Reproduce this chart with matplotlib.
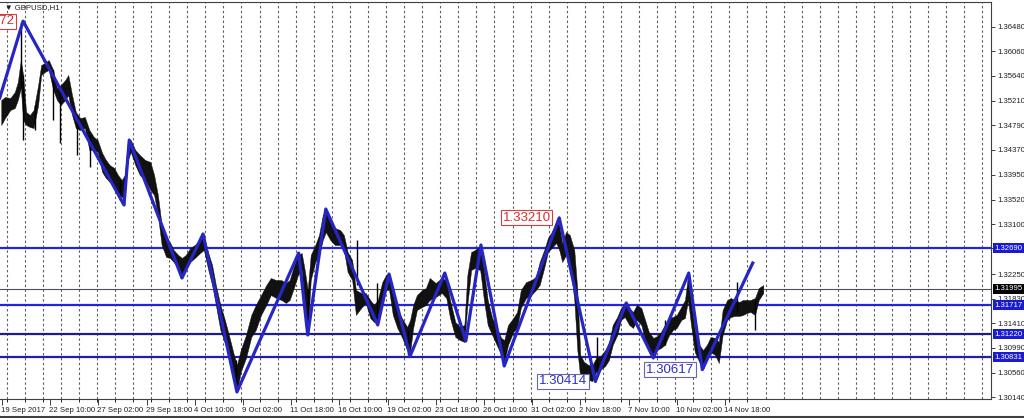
import numpy as np
import matplotlib.pyplot as plt
from matplotlib import transforms

plt.rcParams['font.family'] = ['Liberation Sans', 'DejaVu Sans']

# GBPUSD H1, x = bar number counted from 19 Sep 2017 18:00 (weekends skipped like MT4)
# price envelope (high / low) in small groups of bars
bar_pos = [-1, 4, 11, 17, 21, 25, 28, 32, 37, 42, 48, 52, 57, 62, 68, 73, 78, 84, 88, 93,
           98, 104, 110, 116, 122, 127, 133, 138, 143, 149, 154, 159, 163, 167, 171, 177, 183, 190, 197, 202,
           207, 212, 218, 223, 228, 234, 239, 244, 250, 256, 263, 268, 274, 279, 284, 290, 296, 303, 308, 312,
           317, 324, 331, 337, 344, 351, 357, 364, 371, 377, 382, 388, 393, 398, 402, 406, 410, 416, 421, 426,
           430, 436, 442, 449, 454, 459, 465, 470, 477, 483, 489, 494, 499, 505, 510, 514, 519, 525, 531, 538,
           542, 546, 551, 558, 563, 568, 576, 584, 590, 595, 602, 608, 614, 618, 623, 628, 635, 640, 645, 651,
           657, 663, 667, 672, 679, 684, 689, 696, 703, 709, 714, 720, 725, 730, 736, 740, 744, 749, 754, 760,
           764, 768, 773, 779, 784, 789, 794, 801, 806, 811, 817, 822, 827, 833, 838, 843, 849, 854, 859, 865,
           870, 875, 880, 886, 891, 896, 902, 907, 911, 915, 920, 926, 931, 936, 941, 947, 952, 957, 963, 968,
           973, 979, 984, 989, 994, 1000, 1005, 1011]
bar_high = [1.35224, 1.35275, 1.35258, 1.35361, 1.35532, 1.35908, 1.35651, 1.35019, 1.34968, 1.35053,
            1.35480, 1.35822, 1.35856, 1.35908, 1.35737, 1.35429, 1.35480, 1.35566, 1.35651, 1.35309,
            1.35019, 1.34916, 1.34933, 1.34711, 1.34592, 1.34540, 1.34318, 1.34199, 1.34113, 1.34062,
            1.33942, 1.33857, 1.33942, 1.34506, 1.34540, 1.34370, 1.34284, 1.34199, 1.34165, 1.33942,
            1.33600, 1.33088, 1.32831, 1.32797, 1.32660, 1.32575, 1.32524, 1.32575, 1.32695, 1.32746,
            1.32831, 1.32900, 1.32609, 1.32404, 1.32062, 1.31721, 1.31464, 1.31122, 1.30866, 1.30695,
            1.30951, 1.31208, 1.31550, 1.31721, 1.31891, 1.32062, 1.32182, 1.32147, 1.32147, 1.32096,
            1.32147, 1.32404, 1.32575, 1.32609, 1.32318, 1.31977, 1.32575, 1.32746, 1.32917, 1.33259,
            1.33344, 1.33173, 1.33036, 1.33002, 1.32917, 1.32626, 1.32489, 1.31977, 1.31926, 1.31926,
            1.31806, 1.31721, 1.31806, 1.32113, 1.32233, 1.32267, 1.31977, 1.31635, 1.31499, 1.31345,
            1.31464, 1.31721, 1.31891, 1.31977, 1.32011, 1.32182, 1.32096, 1.32182, 1.32147, 1.31806,
            1.31430, 1.31345, 1.31379, 1.32233, 1.32626, 1.32660, 1.32729, 1.32318, 1.31806, 1.31499,
            1.31328, 1.31157, 1.31122, 1.31379, 1.31499, 1.31601, 1.31977, 1.32113, 1.32147, 1.32199,
            1.32455, 1.32660, 1.32866, 1.32968, 1.33139, 1.33088, 1.32780, 1.32968, 1.32917, 1.32660,
            1.31977, 1.30866, 1.30746, 1.30695, 1.30695, 1.30815, 1.30832, 1.30951, 1.31071, 1.31379,
            1.31516, 1.31670, 1.31755, 1.31670, 1.31601, 1.31721, 1.31670, 1.31464, 1.31259, 1.31157,
            1.31191, 1.31259, 1.31379, 1.31499, 1.31516, 1.31550, 1.31687, 1.31806, 1.32233, 1.31806,
            1.31293, 1.31037, 1.30951, 1.31037, 1.31174, 1.31157, 1.31088, 1.31635, 1.31806, 1.31840,
            1.31806, 1.31772, 1.31806, 1.31806, 1.31806, 1.31840, 1.32011, 1.32062]
bar_low = [1.34797, 1.34916, 1.35053, 1.35087, 1.35224, 1.35429, 1.34882, 1.34797, 1.34763, 1.34745,
           1.35139, 1.35651, 1.35703, 1.35737, 1.35395, 1.35224, 1.35139, 1.35224, 1.35309, 1.34968,
           1.34745, 1.34711, 1.34745, 1.34370, 1.34370, 1.34335, 1.33994, 1.33891, 1.33823, 1.33771,
           1.33652, 1.33566, 1.33515, 1.34199, 1.34335, 1.34113, 1.33942, 1.33857, 1.33686, 1.33600,
           1.33259, 1.32746, 1.32541, 1.32524, 1.32455, 1.32353, 1.32233, 1.32353, 1.32455, 1.32524,
           1.32609, 1.32660, 1.32318, 1.32062, 1.31721, 1.31293, 1.31071, 1.30780, 1.30438, 1.30234,
           1.30575, 1.30815, 1.31174, 1.31293, 1.31550, 1.31721, 1.31891, 1.31840, 1.31806, 1.31755,
           1.31806, 1.32028, 1.32233, 1.32318, 1.31635, 1.31208, 1.32147, 1.32455, 1.32575, 1.32831,
           1.32968, 1.32831, 1.32746, 1.32746, 1.32660, 1.32284, 1.32147, 1.31550, 1.31670, 1.31755,
           1.31499, 1.31430, 1.31413, 1.31755, 1.31977, 1.31977, 1.31550, 1.31328, 1.31174, 1.30951,
           1.30917, 1.31328, 1.31635, 1.31687, 1.31721, 1.31806, 1.31857, 1.31926, 1.31840, 1.31499,
           1.31174, 1.31122, 1.31088, 1.31721, 1.32318, 1.32353, 1.32318, 1.31806, 1.31379, 1.31208,
           1.31037, 1.30866, 1.30746, 1.31037, 1.31259, 1.31328, 1.31670, 1.31840, 1.31891, 1.31977,
           1.32062, 1.32353, 1.32626, 1.32695, 1.32780, 1.32660, 1.32455, 1.32575, 1.32455, 1.31806,
           1.30951, 1.30473, 1.30438, 1.30438, 1.30421, 1.30575, 1.30609, 1.30678, 1.30780, 1.31037,
           1.31208, 1.31464, 1.31516, 1.31379, 1.31328, 1.31464, 1.31379, 1.31122, 1.30951, 1.30849,
           1.30951, 1.30986, 1.31037, 1.31208, 1.31293, 1.31328, 1.31464, 1.31499, 1.31806, 1.31379,
           1.30917, 1.30746, 1.30617, 1.30780, 1.30917, 1.30866, 1.30729, 1.31208, 1.31464, 1.31516,
           1.31533, 1.31533, 1.31550, 1.31584, 1.31601, 1.31550, 1.31806, 1.31926]

# single long wicks
spike_pos = [25, 28, 44, 68, 77, 100, 117, 157, 162, 311, 406, 471, 498, 539, 790, 880, 976, 1000]
spike_high = [1.36557, 1.35651, 1.35139, 1.35737, 1.35395, 1.34968, 1.34626, 1.33857, 1.33771, 1.30780,
              1.31977, 1.32831, 1.32096, 1.31293, 1.31174, 1.31464, 1.32113, 1.31806]
spike_low = [1.35429, 1.34540, 1.34711, 1.34882, 1.34489, 1.34284, 1.34079, 1.33515, 1.33430, 1.30267,
             1.31208, 1.32062, 1.31413, 1.30866, 1.30575, 1.31037, 1.31601, 1.31293]

# ZigZag indicator
zz_pos = [-3, 28, 162, 169, 239, 267, 312, 394, 406, 430, 499, 514, 542, 588, 616, 636, 667, 740, 788, 829,
          865, 912, 930, 997]
zz_price = [1.35260, 1.36572, 1.33430, 1.34540, 1.32182, 1.32934, 1.30234, 1.32609, 1.31208, 1.33361,
            1.31379, 1.32250, 1.30849, 1.32267, 1.31105, 1.32746, 1.30678, 1.33210, 1.30414, 1.31755,
            1.30815, 1.32267, 1.30617, 1.32438]
zz_labeled = [1, 17, 18, 22]

levels = [1.32690, 1.31717, 1.31220, 1.30831]
bid = 1.31995

price_ticks = [1.36480, 1.36060, 1.35640, 1.35210, 1.34790, 1.34370, 1.33950, 1.33520, 1.33100,
               1.32690, 1.32250, 1.31830, 1.31410, 1.30990, 1.30560, 1.30140]
date_labels = ["19 Sep 2017", "22 Sep 10:00", "27 Sep 02:00", "29 Sep 18:00", "4 Oct 10:00",
               "9 Oct 02:00", "11 Oct 18:00", "16 Oct 10:00", "19 Oct 02:00", "23 Oct 18:00",
               "26 Oct 10:00", "31 Oct 02:00", "2 Nov 18:00", "7 Nov 10:00", "10 Nov 02:00",
               "14 Nov 18:00"]
bars_per_label = 64
bars_per_day = 24

fig = plt.figure(figsize=(10.24, 4.18), dpi=100)
ax = fig.add_axes([0, 19 / 418, 991 / 1024, 397 / 418])
ax.set_xlim(-2.66, 1313.4)
ax.set_ylim(1.30114, 1.36899)

# daily dashed grid
day_lines = np.arange(6, 1313, bars_per_day)
ax.vlines(day_lines, 0, 1, transform=ax.get_xaxis_transform(), colors='#606060',
          linestyles=(0, (2.2, 2.2)), lw=0.8, zorder=1)

# horizontal levels
lvl_colors = ['#2424d8', '#2424d8', '#1c1c8c', '#1e1ea8']
for lv, c in zip(levels, lvl_colors):
    ax.axhline(lv, color=c, lw=1.6, zorder=2)
ax.axhline(bid, color='#505050', lw=0.8, zorder=2)

# price
ax.fill_between(bar_pos, bar_low, bar_high, color='#111111', lw=0.3, zorder=3)
ax.vlines(spike_pos, spike_low, spike_high, colors='black', lw=1.0, zorder=3)

# zigzag
ax.plot(zz_pos, zz_price, color='#2626c4', lw=2.3, zorder=4)
for i in zz_labeled:
    up = zz_price[i] > zz_price[i - 1]
    c = '#e02a2a' if up else '#2e2ec8'
    ec = '#d04040' if up else '#6868a8'
    ax.annotate(f"{zz_price[i]:.5f}", (zz_pos[i], zz_price[i]), xytext=(-6, 0),
                textcoords='offset points', ha='right', va='center', fontsize=9.5, color=c,
                bbox=dict(boxstyle='square,pad=0.12', fc='white', ec=ec, lw=0.8),
                zorder=5, clip_on=True, annotation_clip=False)

# axes frame
ax.spines['left'].set_visible(False)
for s in ['top', 'right', 'bottom']:
    ax.spines[s].set_color('#404040')
    ax.spines[s].set_linewidth(0.8)

# tick labels hidden under the boxed level prices are left blank
covered = [1.32690]
ax.yaxis.tick_right()
ax.set_yticks(price_ticks)
ax.set_yticklabels(["" if p in covered else f"{p:.5f}" for p in price_ticks])
ax.tick_params(axis='y', length=3, width=0.6, pad=1.5, labelsize=5.6, colors='#202020')

label_pos = np.arange(len(date_labels)) * bars_per_label
ax.set_xticks(label_pos)
ax.set_xticklabels(date_labels, ha='left')
ax.set_xticks(day_lines[day_lines < 1012], minor=True)
ax.tick_params(axis='x', length=4, width=0.6, pad=1.5, labelsize=5.6, colors='#202020')
ax.tick_params(axis='x', which='minor', length=2.5, width=0.6)
for lbl in ax.get_xticklabels():
    lbl.set_transform(lbl.get_transform() + transforms.ScaledTranslation(-1 / 100, 0, fig.dpi_scale_trans))

# boxed level prices on the price scale
trans = transforms.blended_transform_factory(ax.transAxes, ax.transData)
for lv in levels:
    ax.text(1.0035, lv, f"{lv:.5f}", transform=trans, fontsize=5.6, color='white', va='center',
            ha='left', bbox=dict(boxstyle='square,pad=0.18', fc='#1a1ad0', ec='none'), zorder=6, clip_on=False)
ax.text(1.0035, bid, f"{bid:.5f}", transform=trans, fontsize=5.6, color='white', va='center',
        ha='left', bbox=dict(boxstyle='square,pad=0.18', fc='black', ec='none'), zorder=6, clip_on=False)

ax.text(5 / 991, 1 - 6 / 397, "\u25bc GBPUSD,H1", transform=ax.transAxes, fontsize=5.6,
        color='#202020', va='center', ha='left', family=['Liberation Sans', 'DejaVu Sans'])

fig.add_artist(plt.Line2D([0, 1], [1.5 / 418, 1.5 / 418], color='#404040', lw=1.5))

fig.savefig("out.png", dpi=100, facecolor='white')
